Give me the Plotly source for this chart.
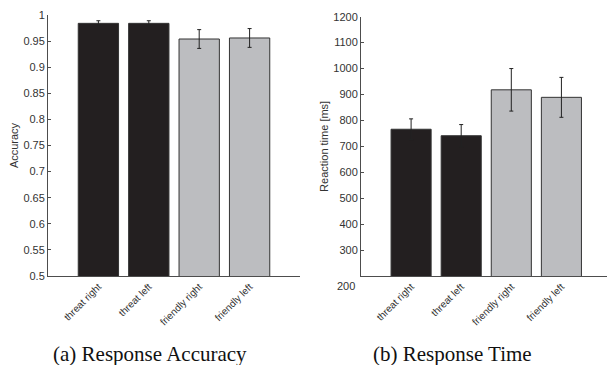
import plotly.graph_objects as go

categories = ["threat right", "threat left", "friendly right", "friendly left"]
accuracy = [0.984, 0.984, 0.954, 0.956]
accuracy_err = [0.005, 0.005, 0.018, 0.018]
rt = [766, 741, 918, 889]
rt_err = [40, 43, 82, 77]
bar_colors = ["#231f20", "#231f20", "#bcbdc0", "#bcbdc0"]
acc_ticks = [0.5, 0.55, 0.6, 0.65, 0.7, 0.75, 0.8, 0.85, 0.9, 0.95, 1.0]
acc_ticktext = ["0.5", "0.55", "0.6", "0.65", "0.7", "0.75", "0.8", "0.85", "0.9", "0.95", "1"]
rt_ticks = [300, 400, 500, 600, 700, 800, 900, 1000, 1100, 1200]

xpos = list(range(len(categories)))
tickfont = dict(family="Liberation Sans, Arial, sans-serif", size=11, color="#333")
xtickfont = dict(family="Liberation Sans, Arial, sans-serif", size=10, color="#333")
axcol = "#4d4d4d"

fig = go.Figure()
fig.add_trace(go.Bar(
    x=xpos, y=accuracy, width=0.8, xaxis="x", yaxis="y",
    marker=dict(color=bar_colors, line=dict(color="#333", width=1)),
    error_y=dict(type="data", array=accuracy_err, color="#222", thickness=1, width=2),
    showlegend=False, hoverinfo="skip"))
fig.add_trace(go.Bar(
    x=xpos, y=rt, width=0.8, xaxis="x2", yaxis="y2",
    marker=dict(color=bar_colors, line=dict(color="#333", width=1)),
    error_y=dict(type="data", array=rt_err, color="#222", thickness=1, width=2),
    showlegend=False, hoverinfo="skip"))

common_x = dict(tickmode="array", tickvals=xpos, ticktext=categories, tickangle=-45,
                showline=True, linecolor=axcol, linewidth=1, ticks="", showgrid=False,
                zeroline=False, tickfont=xtickfont, automargin=False)
common_y = dict(showline=True, linecolor=axcol, linewidth=1, ticks="inside", ticklen=3,
                tickcolor=axcol, showgrid=False, zeroline=False, tickfont=tickfont,
                automargin=False)
titlefont = dict(family="Liberation Sans, Arial", size=11, color="#333")

fig.update_layout(
    width=607, height=365,
    margin=dict(l=0, r=0, t=0, b=0),
    paper_bgcolor="white", plot_bgcolor="white",
    bargap=0,
    xaxis=dict(domain=[48/607, 300/607], range=[-1, 4], anchor="y", **common_x),
    yaxis=dict(domain=[1-276/365, 1-15/365], range=[0.5, 1.0], anchor="x",
               tickvals=acc_ticks, ticktext=acc_ticktext,
               title=dict(text="Accuracy", font=titlefont, standoff=2),
               **common_y),
    xaxis2=dict(domain=[361/607, 1.0], range=[-1, 3.91], anchor="y2", **common_x),
    yaxis2=dict(domain=[1-276/365, 1-16.7/365], range=[200, 1200], anchor="x2",
                tickvals=rt_ticks, ticktext=[str(v) for v in rt_ticks],
                title=dict(text="Reaction time [ms]", font=titlefont, standoff=2),
                **common_y),
    annotations=[
        dict(text="200", xref="x2 domain", yref="y2", x=0, y=200, xanchor="right",
             yanchor="top", xshift=-4, yshift=-2, showarrow=False, font=tickfont),
        dict(text="(a) Response Accuracy", xref="paper", yref="paper", x=150/607, y=1-354/365,
             xanchor="center", yanchor="middle", showarrow=False,
             font=dict(family="Liberation Serif, Times New Roman, serif", size=21, color="#111")),
        dict(text="(b) Response Time", xref="paper", yref="paper", x=452/607, y=1-354/365,
             xanchor="center", yanchor="middle", showarrow=False,
             font=dict(family="Liberation Serif, Times New Roman, serif", size=21, color="#111")),
    ],
)

fig.write_html("out.html", config={"displayModeBar": False, "staticPlot": True},
               post_script="document.body.style.margin='0';document.body.style.overflow='hidden';")
